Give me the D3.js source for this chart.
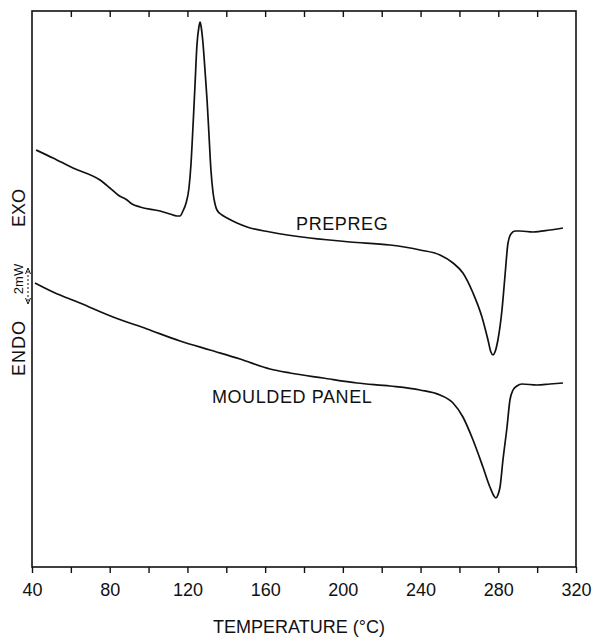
<!DOCTYPE html>
<html><head><meta charset="utf-8">
<script src="https://cdn.jsdelivr.net/npm/d3@7/dist/d3.min.js"></script>
<style>
body{margin:0;background:#fff}
text{font-family:"Liberation Sans",Arial,Helvetica,sans-serif;fill:#111}
</style>
</head><body><svg id="c" width="592" height="642"></svg>
<script>
// ---- data ----
const xTickValues = [40,60,80,100,120,140,160,180,200,220,240,260,280,300,320];
const xTickLabels = ["40","80","120","160","200","240","280","320"];
const seriesNames = ["PREPREG","MOULDED PANEL"];
// heat flow in arbitrary units (EXO up)
const prepregT = [42.1,50.8,61.1,75.0,80.1,84.3,88.9,91.5,95.6,105.9,111.0,114.6,116.2,117.7,119.3,120.8,121.8,122.9,123.9,124.9,125.9,126.5,127.0,128.0,129.1,130.1,131.1,132.1,133.2,134.2,135.2,137.8,140.4,145.5,150.7,162.5,183.1,203.7,224.3,239.7,250.0,256.7,261.8,267.0,271.6,274.7,276.2,277.3,278.3,279.8,281.9,283.4,285.0,286.5,288.6,291.2,297.8,306.6,313.3];
const prepregQ = [41.7,40.9,39.9,38.7,37.9,37.2,36.7,36.3,36.0,35.6,35.3,35.1,35.1,35.6,36.4,37.9,40.2,44.2,48.2,52.2,54.0,54.5,54.1,52.4,49.5,46.7,43.2,39.7,37.4,36.3,35.7,35.2,34.9,34.4,34.0,33.5,32.9,32.5,32.2,31.7,31.2,30.4,29.4,27.4,25.0,22.7,21.5,21.2,21.5,22.7,25.7,29.0,32.4,33.3,33.6,33.6,33.5,33.7,33.9];
const mouldedT = [41.5,50.8,64.7,81.7,99.2,116.2,131.6,147.1,162.5,172.8,189.8,207.3,224.3,239.7,250.0,256.7,261.8,267.0,272.1,275.7,277.8,278.8,279.8,280.9,282.4,284.5,286.0,287.6,289.6,292.2,299.9,306.6,313.3];
const mouldedQ = [28.4,27.5,26.4,25.0,23.8,22.6,21.7,20.8,19.8,19.4,18.9,18.4,18.1,17.7,17.2,16.4,15.0,12.7,10.0,8.0,7.1,6.9,7.2,8.0,10.7,14.0,16.7,17.7,18.1,18.3,18.2,18.3,18.4];

// ---- layout ----
const svg = d3.select("#c");
const L = 32, R = 576, T = 11, B = 567;
const x = d3.scaleLinear().domain([40,320]).range([L,R]);
const y = d3.scaleLinear().domain([0,55.6]).range([B,T]);

// frame
svg.append("rect").attr("x",L).attr("y",T).attr("width",R-L).attr("height",B-T)
  .attr("fill","none").attr("stroke","#111").attr("stroke-width",1.6);

// bottom axis
const bottomAxis = svg.append("g").attr("transform",`translate(0,${B})`)
  .call(d3.axisBottom(x).tickValues(xTickValues).tickSize(6).tickPadding(10)
    .tickFormat(d => xTickLabels.includes(String(d)) ? String(d) : ""));
bottomAxis.select(".domain").remove();
bottomAxis.selectAll("line").attr("stroke","#111").attr("stroke-width",1.4);
bottomAxis.selectAll("text").style("font-size","18px").attr("fill","#111");

// top axis (inward ticks)
const topAxis = svg.append("g").attr("transform",`translate(0,${T})`)
  .call(d3.axisBottom(x).tickValues(xTickValues.slice(1,-1)).tickSize(6).tickFormat(""));
topAxis.select(".domain").remove();
topAxis.selectAll("line").attr("stroke","#111").attr("stroke-width",1.4);

// curves
const line = d3.line().x(d=>x(d[0])).y(d=>y(d[1])).curve(d3.curveMonotoneX);
const series = [d3.zip(prepregT,prepregQ), d3.zip(mouldedT,mouldedQ)];
svg.selectAll("path.curve").data(series).join("path").attr("class","curve")
  .attr("d",line).attr("fill","none").attr("stroke","#111").attr("stroke-width",1.7)
  .attr("stroke-linejoin","round");

// curve labels
const labelPos = [[175.9,33.7],[132.6,16.4]];
svg.selectAll("text.lab").data(seriesNames).join("text").attr("class","lab")
  .attr("x",(d,i)=>x(labelPos[i][0])).attr("y",(d,i)=>y(labelPos[i][1]))
  .style("font-size","18px").style("letter-spacing","0.6px").text(d=>d);

// x title
svg.append("text").attr("x",299).attr("y",633).attr("text-anchor","middle")
  .style("font-size","18px").text("TEMPERATURE (°C)");

// y label
const yl = svg.append("g");
yl.append("text").attr("transform","translate(25,208) rotate(-90)").attr("text-anchor","middle")
  .style("font-size","18px").text("EXO");
yl.append("text").attr("transform","translate(25,348) rotate(-90)").attr("text-anchor","middle")
  .style("font-size","18px").style("letter-spacing","1px").text("ENDO");
yl.append("text").attr("transform","translate(23,279) rotate(-90)").attr("text-anchor","middle")
  .style("font-size","13px").text("2mW");
// scale arrow
yl.append("line").attr("x1",28).attr("x2",28).attr("y1",271).attr("y2",301)
  .attr("stroke","#111").attr("stroke-width",1).attr("stroke-dasharray","2,2");
yl.append("path").attr("d","M25.5,274 L28,268 L30.5,274 M25.5,298 L28,304 L30.5,298")
  .attr("fill","none").attr("stroke","#111").attr("stroke-width",1);
</script>
</body></html>
